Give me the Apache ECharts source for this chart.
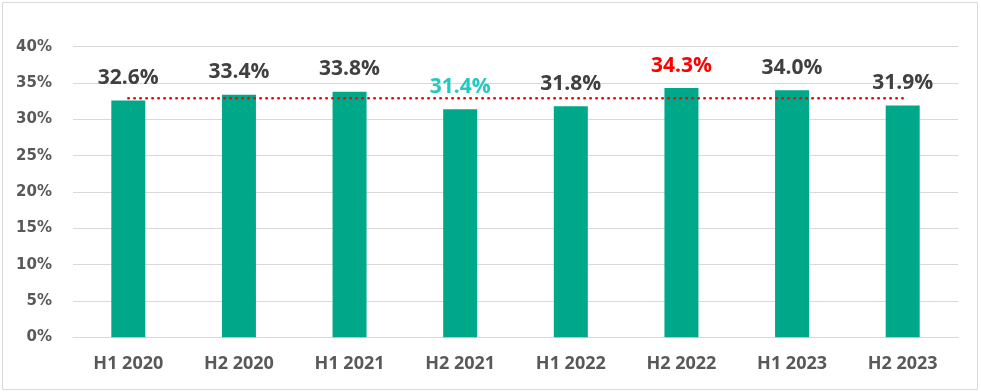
<!DOCTYPE html>
<html><head><meta charset="utf-8">
<script src="https://cdn.jsdelivr.net/npm/echarts@6/dist/echarts.min.js"></script>
<style>html,body{margin:0;padding:0;background:#fff}#c{width:981px;height:392px}</style>
</head><body><div id="c"></div>
<script>
const categories = ['H1 2020','H2 2020','H1 2021','H2 2021','H1 2022','H2 2022','H1 2023','H2 2023'];
const values = [32.6, 33.4, 33.8, 31.4, 31.8, 34.3, 34.0, 31.9];
const labelColors = ['#404040','#404040','#404040','#21C9C0','#404040','#FF0000','#404040','#404040'];
const averageValue = 32.9;
const yTicks = [0,5,10,15,20,25,30,35,40];

const chart = echarts.init(document.getElementById('c'));
const font = 'DejaVu Sans';
chart.setOption({
  animation: false,
  graphic: [{type:'rect', shape:{x:2.5,y:2.5,width:975,height:387}, style:{fill:'none', stroke:'#d9d9d9', lineWidth:1}, silent:true}],
  grid: {left:73, right:23, top:46.7, bottom:392-337.3},
  xAxis: {
    type:'category', data: categories,
    axisLine:{lineStyle:{color:'#d9d9d9', width:1}},
    axisTick:{show:false},
    axisLabel:{color:'#595959', fontFamily:'Open Sans', fontWeight:'bold', fontSize:18, margin:18}
  },
  yAxis: {
    type:'value', min:0, max:40, interval:5,
    axisLine:{show:false}, axisTick:{show:false},
    splitLine:{lineStyle:{color:'#d9d9d9', width:1}},
    axisLabel:{color:'#595959', fontFamily:font, fontWeight:'bold', fontSize:15, margin:21,
      formatter: v => yTicks.includes(v) ? v + '%' : ''}
  },
  series: [
    {
      type:'bar', barWidth:34,
      data: values.map((v,i)=>({value:v, label:{color:labelColors[i]}})),
      itemStyle:{color:'#00A88A'},
      label:{show:true, position:'top', distance:12, fontFamily:'Open Sans', fontWeight:'bold', fontSize:21,
        formatter: p => p.value.toFixed(1) + '%'}
    },
    {
      type:'line', data: categories.map(()=>averageValue), symbol:'none', z:5,
      lineStyle:{color:'#FF0000', width:2.5, type:[0.5,5.5], cap:'round'}
    }
  ]
});
</script></body></html>
